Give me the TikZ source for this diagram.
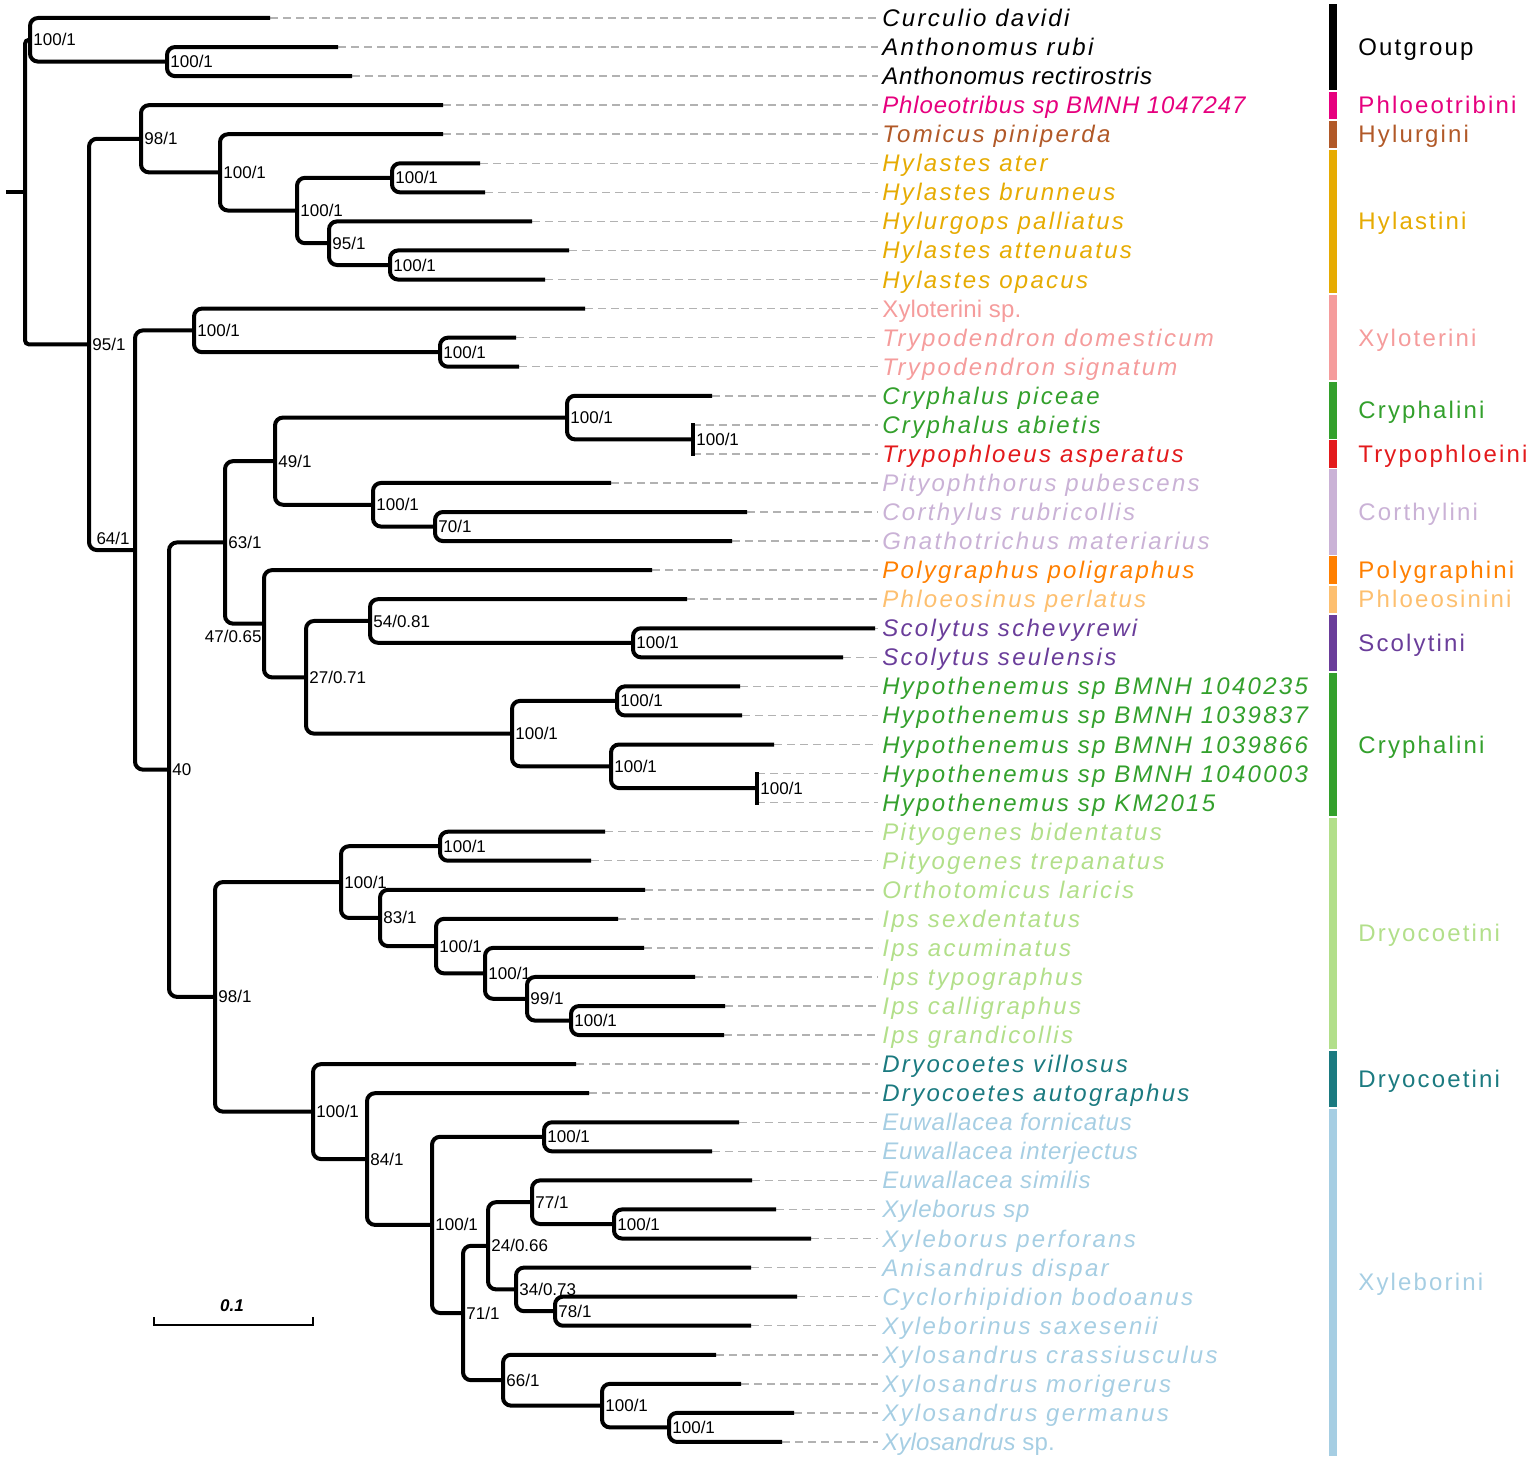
\documentclass[tikz,border=0pt]{standalone}
\usepackage{fontspec}
\setmainfont{Liberation Sans}
\newfontfamily\tipfont{Liberation Sans}[LetterSpace=9.5]
\newfontfamily\narrowfont{Liberation Sans}[LetterSpace=3.5]
\newfontfamily\plainfont{Liberation Sans}[LetterSpace=0.5]
\newfontfamily\grpfont{Liberation Sans}[LetterSpace=9]

\definecolor{outg}{HTML}{000000}
\definecolor{phlt}{HTML}{E6007E}
\definecolor{hylu}{HTML}{B15928}
\definecolor{hyls}{HTML}{E6AB02}
\definecolor{xylo}{HTML}{F59C9C}
\definecolor{cryp}{HTML}{33A02C}
\definecolor{tryp}{HTML}{E31A1C}
\definecolor{cort}{HTML}{CAB2D6}
\definecolor{poly}{HTML}{FF7F00}
\definecolor{phls}{HTML}{FDBF6F}
\definecolor{scol}{HTML}{6A3D9A}
\definecolor{dryl}{HTML}{B2DF8A}
\definecolor{dryt}{HTML}{1B7A80}
\definecolor{xleb}{HTML}{A6CEE3}

\tikzset{
  branch/.style={line width=2pt, rounded corners=4pt},
  guide/.style={black!30, line width=0.75pt, dash pattern=on 4pt off 2.5pt},
  bs/.style={font=\fontsize{8.5}{10}\selectfont, anchor=base west, inner sep=0pt, xshift=1.5pt, yshift=-3pt},
  bsl/.style={font=\fontsize{8.5}{10}\selectfont, anchor=base east, inner sep=0pt},
  tip/.style={font=\fontsize{12}{14}\tipfont\itshape, anchor=base west, inner sep=0pt, yshift=-4.25pt},
  tipn/.style={tip, font=\fontsize{12}{14}\narrowfont\itshape},
  tipu/.style={tip, font=\fontsize{12}{14}\plainfont},
  grp/.style={font=\fontsize{12}{14}\grpfont, anchor=base west, inner sep=0pt, yshift=-4.25pt}
}

\begin{document}
\begin{tikzpicture}[x=0.5pt, y=-14.53pt]
\useasboundingbox (0,0.3806) rectangle (1535,50.759);

% tips, guide lines and taxon names
\foreach \i/\xe/\c/\st/\txt in {
 1/270/outg/tip/Curculio davidi,
 2/338/outg/tip/Anthonomus rubi,
 3/352/outg/tipn/Anthonomus rectirostris,
 4/443/phlt/tipn/Phloeotribus sp BMNH 1047247,
 5/443/hylu/tip/Tomicus piniperda,
 6/480/hyls/tip/Hylastes ater,
 7/485/hyls/tip/Hylastes brunneus,
 8/532/hyls/tip/Hylurgops palliatus,
 9/569/hyls/tip/Hylastes attenuatus,
 10/545/hyls/tip/Hylastes opacus,
 11/585/xylo/tipu/Xyloterini sp.,
 12/516/xylo/tip/Trypodendron domesticum,
 13/519/xylo/tip/Trypodendron signatum,
 14/712/cryp/tip/Cryphalus piceae,
 15/693/cryp/tip/Cryphalus abietis,
 16/693/tryp/tip/Trypophloeus asperatus,
 17/611/cort/tip/Pityophthorus pubescens,
 18/747/cort/tip/Corthylus rubricollis,
 19/732/cort/tip/Gnathotrichus materiarius,
 20/652/poly/tip/Polygraphus poligraphus,
 21/687/phls/tip/Phloeosinus perlatus,
 22/875/scol/tip/Scolytus schevyrewi,
 23/843/scol/tip/Scolytus seulensis,
 24/740/cryp/tip/Hypothenemus sp BMNH 1040235,
 25/742/cryp/tip/Hypothenemus sp BMNH 1039837,
 26/774/cryp/tip/Hypothenemus sp BMNH 1039866,
 27/757/cryp/tip/Hypothenemus sp BMNH 1040003,
 28/757/cryp/tip/Hypothenemus sp KM2015,
 29/605/dryl/tip/Pityogenes bidentatus,
 30/591/dryl/tip/Pityogenes trepanatus,
 31/645/dryl/tip/Orthotomicus laricis,
 32/618/dryl/tip/Ips sexdentatus,
 33/644/dryl/tip/Ips acuminatus,
 34/695/dryl/tip/Ips typographus,
 35/725/dryl/tip/Ips calligraphus,
 36/724/dryl/tip/Ips grandicollis,
 37/576/dryt/tip/Dryocoetes villosus,
 38/589/dryt/tip/Dryocoetes autographus,
 39/739/xleb/tipn/Euwallacea fornicatus,
 40/712/xleb/tipn/Euwallacea interjectus,
 41/752/xleb/tipn/Euwallacea similis,
 42/776/xleb/tipn/Xyleborus sp,
 43/811/xleb/tip/Xyleborus perforans,
 44/751/xleb/tip/Anisandrus dispar,
 45/797/xleb/tip/Cyclorhipidion bodoanus,
 46/751/xleb/tip/Xyleborinus saxesenii,
 47/716/xleb/tip/Xylosandrus crassiusculus,
 48/741/xleb/tip/Xylosandrus morigerus,
 49/794/xleb/tip/Xylosandrus germanus,
 50/782/xleb/tipu/{\itshape Xylosandrus} sp.}{
 \coordinate (t\i) at (\xe,\i);
 \coordinate (g\i) at (878,\i);
 \draw[guide] (t\i) -- (g\i);
 \node[\st, text=\c] (l\i) at (882,\i) {\txt};
}

% internal nodes
\foreach \n/\x/\y in {root/25/6.99, og/30/1.75, anth/167/2.5, ing/89/12.233,
 hyl98/141/5.156, n100a/220/6.3125, hylast/297/7.625, hatbr/392/6.5,
 n95/329/8.75, hattop/390/9.5, n64/135/19.31, xylo/194/11.75, tryp/440/12.5,
 n40/169/26.865, n63/225/19.047, n49/275/16.25, cryph/567/14.75, cbar/693/15.5,
 pity/373/17.75, n70/435/18.5, n47/264/21.84, n27/306/23.69, n54/370/21.75,
 scol/633/22.5, hypo/512/25.625, hpa/617/24.5, hpb/611/26.75, hbar/757/27.5,
 n98b/215/34.684, ips/341/30.734, pgen/440/29.5, n83/380/31.969,
 n100b/436/32.9375, n100c/485/33.875, n99/527/34.75, ipsc/571/35.5,
 dryo/313/38.633, n84/367/40.266, xyl/432/42.531, euw/544/39.5,
 n71/463/45.5625, n24/488/43.25, n77/532/41.75, xbor/614/42.5,
 n34/516/44.75, n78/555/45.5, n66/503/47.875, xsa/602/48.75, xsb/669/49.5}
 \coordinate (\n) at (\x,\y);
\coordinate (stub) at (6,6.99);

% branches
\draw[branch, rounded corners=2pt] (og) -| (root) |- (ing);
\draw[branch, rounded corners=0pt] (stub) -- (root);
\foreach \n/\a/\b in {og/t1/anth, anth/t2/t3, ing/hyl98/n64, hyl98/t4/n100a,
 n100a/t5/hylast, hylast/hatbr/n95, hatbr/t6/t7, n95/t8/hattop, hattop/t9/t10,
 n64/xylo/n40, xylo/t11/tryp, tryp/t12/t13, n40/n63/n98b, n63/n49/n47,
 n49/cryph/pity, cryph/t14/cbar, pity/t17/n70, n70/t18/t19, n47/t20/n27,
 n27/n54/hypo, n54/t21/scol, scol/t22/t23, hypo/hpa/hpb, hpa/t24/t25,
 hpb/t26/hbar, n98b/ips/dryo, ips/pgen/n83, pgen/t29/t30, n83/t31/n100b,
 n100b/t32/n100c, n100c/t33/n99, n99/t34/ipsc, ipsc/t35/t36, dryo/t37/n84,
 n84/t38/xyl, xyl/euw/n71, euw/t39/t40, n71/n24/n66, n24/n77/n34,
 n77/t41/xbor, xbor/t42/t43, n34/t44/n78, n78/t45/t46, n66/t47/xsa,
 xsa/t48/xsb, xsb/t49/t50}
 \draw[branch] (\a) -| (\n) |- (\b);
\draw[branch, rounded corners=0pt, line cap=rect] (t15) -- (t16);
\draw[branch, rounded corners=0pt, line cap=rect] (t27) -- (t28);

% support values
\foreach \n/\s in {og/{100/1}, anth/{100/1}, hyl98/{98/1}, n100a/{100/1},
 hylast/{100/1}, hatbr/{100/1}, n95/{95/1}, hattop/{100/1}, ing/{95/1},
 xylo/{100/1}, tryp/{100/1}, cryph/{100/1}, cbar/{100/1}, n49/{49/1},
 pity/{100/1}, n70/{70/1}, n63/{63/1}, n54/{54/0.81}, scol/{100/1},
 n27/{27/0.71}, hpa/{100/1}, hypo/{100/1}, hpb/{100/1}, hbar/{100/1},
 n40/{40}, pgen/{100/1}, ips/{100/1}, n83/{83/1}, n100b/{100/1},
 n100c/{100/1}, n99/{99/1}, ipsc/{100/1}, n98b/{98/1}, dryo/{100/1},
 n84/{84/1}, euw/{100/1}, xyl/{100/1}, n77/{77/1}, xbor/{100/1},
 n24/{24/0.66}, n34/{34/0.73}, n78/{78/1}, n71/{71/1}, n66/{66/1},
 xsa/{100/1}, xsb/{100/1}}
 \node[bs] (s\n) at (\n) {\s};
\node[bsl] (sn64) at ([xshift=-2.5pt,yshift=3pt]n64) {64/1};
\node[bsl] (sn47) at ([xshift=-1pt,yshift=-9.6pt]n47) {47/0.65};

% scale bar
\coordinate (sbl) at (154,45.98);
\coordinate (sbr) at (313,45.98);
\draw[line width=1pt] ([yshift=4pt]sbl) -- (sbl) -- (sbr) -- ([yshift=4pt]sbr);
\node[font=\fontsize{8.5}{10}\selectfont\bfseries\itshape, inner sep=0pt] (sbt) at (232,45.32) {0.1};

% tribe bars and names
\foreach \a/\b/\c/\txt in {1/3/outg/Outgroup, 4/4/phlt/Phloeotribini,
 5/5/hylu/Hylurgini, 6/10/hyls/Hylastini, 11/13/xylo/Xyloterini,
 14/15/cryp/Cryphalini, 16/16/tryp/Trypophloeini, 17/19/cort/Corthylini,
 20/20/poly/Polygraphini, 21/21/phls/Phloeosinini, 22/23/scol/Scolytini,
 24/28/cryp/Cryphalini, 29/36/dryl/Dryocoetini, 37/38/dryt/Dryocoetini,
 39/50/xleb/Xyleborini}{
 \fill[\c] (1329,\a-0.47) rectangle (1337,\b+0.47);
 \node[grp, text=\c] (gr\a) at (1358,{(\a+\b)/2}) {\txt};
}
\end{tikzpicture}
\end{document}
